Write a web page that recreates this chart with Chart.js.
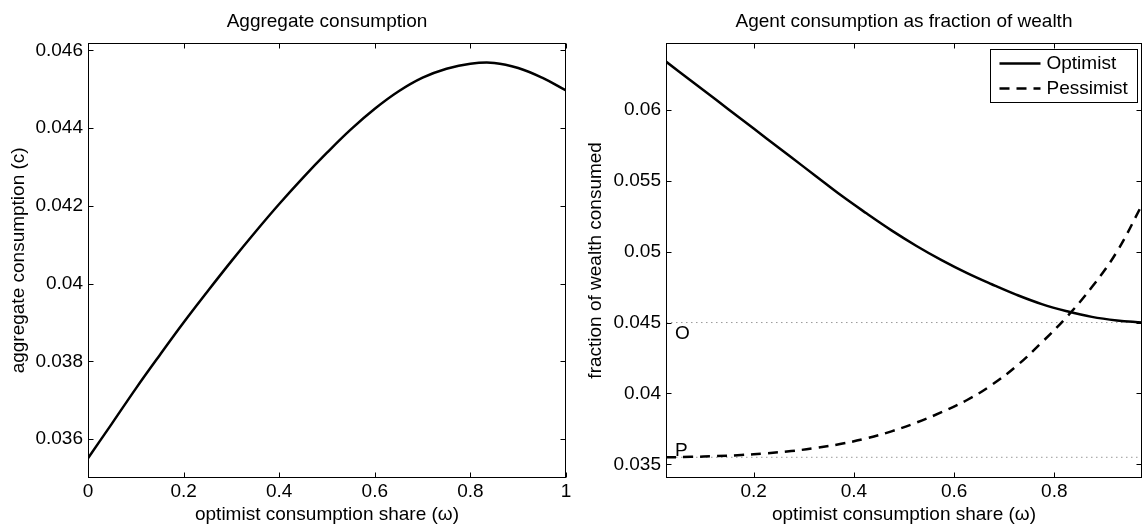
<!DOCTYPE html>
<html>
<head>
<meta charset="utf-8">
<script src="https://cdn.jsdelivr.net/npm/chart.js@4.4.1/dist/chart.umd.min.js"></script>
<style>
    html, body { margin: 0; padding: 0; background: #fff; }
    body { width: 1143px; height: 526px; position: relative; overflow: hidden; }
    canvas { position: absolute; top: 0; }
    #aggregateChart { left: 0; }
    #fractionChart { left: 573px; }
</style>
</head>
<body>
<canvas id="aggregateChart" width="600" height="526"></canvas>
<canvas id="fractionChart" width="570" height="526"></canvas>
<script>
// Left panel: aggregate consumption vs optimist consumption share
const omegaAggregate = [0, 0.05, 0.1, 0.15, 0.2, 0.25, 0.3, 0.35, 0.4, 0.45, 0.5,
                        0.55, 0.6, 0.65, 0.7, 0.75, 0.8, 0.85, 0.9, 0.95, 1];
const aggregateConsumption = [0.03551, 0.03640, 0.03730, 0.03816, 0.03900, 0.03980, 0.04058,
                              0.04133, 0.04205, 0.04273, 0.04337, 0.04397, 0.04450, 0.04495,
                              0.04530, 0.04553, 0.04566, 0.04568, 0.04555, 0.04530, 0.04497];

// Right panel: consumption as fraction of wealth for each agent
const omegaAgent = [0.025, 0.075, 0.125, 0.175, 0.225, 0.275, 0.325, 0.375, 0.425, 0.475,
                    0.525, 0.575, 0.625, 0.675, 0.725, 0.775, 0.825, 0.875, 0.925, 0.975];
const optimistFraction = [0.0634, 0.06205, 0.0607, 0.05935, 0.0580, 0.05665, 0.0553, 0.05395, 0.0527, 0.0515,
                          0.0504, 0.0494, 0.0485, 0.0477, 0.04695, 0.0463, 0.0458, 0.0454, 0.04515, 0.0450];
const pessimistFraction = [0.03550, 0.03553, 0.03558, 0.03566, 0.03578, 0.03594, 0.03616, 0.03645, 0.03683, 0.03733,
                           0.03795, 0.03868, 0.03952, 0.04060, 0.04195, 0.04360, 0.04540, 0.04750, 0.05000, 0.05330];
const optimistLimit = 0.045;   // "O" reference line
const pessimistLimit = 0.0355; // "P" reference line

// Axes
const leftXRange = [0, 1];
const leftYRange = [0.035, 0.0462];
const leftXTicks = [0, 0.2, 0.4, 0.6, 0.8, 1];
const leftYTicks = [0.036, 0.038, 0.04, 0.042, 0.044, 0.046];
const rightXRange = [0.025, 0.975];
const rightYRange = [0.03404, 0.06473];
const rightXTicks = [0.2, 0.4, 0.6, 0.8];
const rightYTicks = [0.035, 0.04, 0.045, 0.05, 0.055, 0.06];

const FONT = "'Liberation Sans', Arial, Helvetica, sans-serif";
Chart.defaults.font.family = FONT;
Chart.defaults.font.size = 19;
Chart.defaults.color = '#000';

function fmtTick(v) {
    return String(parseFloat(Number(v).toFixed(4)));
}

function toPoints(xs, ys) {
    return xs.map((x, i) => ({ x: x, y: ys[i] }));
}

// MATLAB-like box: frame, inward ticks on all four sides, title, text notes, legend
const matlabAxes = {
    id: 'matlabAxes',
    afterDraw(chart, args, opts) {
        const ctx = chart.ctx;
        const a = chart.chartArea;
        const xs = chart.scales.x;
        const ys = chart.scales.y;
        const L = Math.round(a.left) + 0.5, R = Math.round(a.right) - 0.5;
        const T = Math.round(a.top) + 0.5, B = Math.round(a.bottom) - 0.5;
        ctx.save();
        ctx.strokeStyle = '#000';
        ctx.lineWidth = 1;
        ctx.beginPath();
        xs.ticks.forEach(t => {
            const px = Math.round(xs.getPixelForValue(t.value)) + 0.5;
            ctx.moveTo(px, B); ctx.lineTo(px, B - 5);
            ctx.moveTo(px, T); ctx.lineTo(px, T + 5);
        });
        ys.ticks.forEach(t => {
            const py = Math.round(ys.getPixelForValue(t.value)) + 0.5;
            ctx.moveTo(L, py); ctx.lineTo(L + 5, py);
            ctx.moveTo(R, py); ctx.lineTo(R - 5, py);
        });
        ctx.stroke();
        ctx.strokeRect(L, T, R - L, B - T);

        // title
        ctx.fillStyle = '#000';
        ctx.font = '19px ' + FONT;
        ctx.textAlign = 'center';
        ctx.textBaseline = 'alphabetic';
        ctx.fillText(opts.title, (a.left + a.right) / 2, 27);

        // notes next to reference lines
        ctx.textAlign = 'left';
        (opts.notes || []).forEach(n => {
            ctx.fillText(n.text, a.left + 9, ys.getPixelForValue(n.value) + n.dy);
        });

        // legend
        if (opts.legend) {
            const items = chart.data.datasets.filter(d => d.inLegend);
            const w = 147, h = 53;
            const bx = Math.round(a.right - 5 - w) + 0.5, by = Math.round(a.top + 6) + 0.5;
            ctx.fillStyle = '#fff';
            ctx.fillRect(bx, by, w, h);
            ctx.strokeStyle = '#000';
            ctx.lineWidth = 1;
            ctx.strokeRect(bx, by, w, h);
            items.forEach((d, i) => {
                const cy = by + 14 + i * 25;
                ctx.save();
                ctx.lineWidth = d.borderWidth;
                ctx.setLineDash(d.borderDash || []);
                ctx.beginPath();
                ctx.moveTo(bx + 9, cy);
                ctx.lineTo(bx + 50, cy);
                ctx.stroke();
                ctx.restore();
                ctx.fillStyle = '#000';
                ctx.textBaseline = 'middle';
                ctx.fillText(d.label, bx + 56, cy);
            });
        }
        ctx.restore();
    }
};

function xAxis(range, ticks) {
    return {
        type: 'linear',
        position: 'bottom',
        min: range[0],
        max: range[1],
        afterBuildTicks: s => { s.ticks = ticks.map(v => ({ value: v })); },
        afterFit: s => { s.height = 48; },
        grid: { display: false, drawTicks: false },
        border: { display: false },
        ticks: { padding: 2, autoSkip: false, maxRotation: 0, callback: fmtTick },
        title: { display: true, text: 'optimist consumption share (ω)', padding: { top: 0, bottom: 0 } }
    };
}

function yAxis(range, ticks, width, label, titlePad) {
    return {
        type: 'linear',
        position: 'left',
        min: range[0],
        max: range[1],
        afterBuildTicks: s => { s.ticks = ticks.map(v => ({ value: v })); },
        afterFit: s => { s.width = width; },
        grid: { display: false, drawTicks: false },
        border: { display: false },
        ticks: { padding: 5, autoSkip: false, callback: fmtTick },
        title: { display: true, text: label, padding: { top: titlePad, bottom: 0 } }
    };
}

const commonOptions = {
    responsive: false,
    animation: false,
    devicePixelRatio: 1,
    elements: { point: { radius: 0 }, line: { tension: 0.4 } },
    plugins: { legend: { display: false }, tooltip: { enabled: false } }
};

new Chart(document.getElementById('aggregateChart'), {
    type: 'line',
    data: {
        datasets: [{
            label: 'Aggregate consumption',
            data: toPoints(omegaAggregate, aggregateConsumption),
            borderColor: '#000',
            borderWidth: 2.5
        }]
    },
    options: Object.assign({}, commonOptions, {
        layout: { padding: { top: 42.7, right: 34, bottom: 0, left: 0 } },
        scales: {
            x: xAxis(leftXRange, leftXTicks),
            y: yAxis(leftYRange, leftYTicks, 88, 'aggregate consumption (c)', 7)
        },
        plugins: Object.assign({}, commonOptions.plugins, {
            matlabAxes: { title: 'Aggregate consumption' }
        })
    }),
    plugins: [matlabAxes]
});

new Chart(document.getElementById('fractionChart'), {
    type: 'line',
    data: {
        datasets: [{
            label: 'O level',
            data: toPoints(rightXRange, [optimistLimit, optimistLimit]),
            borderColor: '#999',
            borderWidth: 1,
            borderDash: [1.5, 3.5],
            tension: 0,
            order: 2
        }, {
            label: 'P level',
            data: toPoints(rightXRange, [pessimistLimit, pessimistLimit]),
            borderColor: '#999',
            borderWidth: 1,
            borderDash: [1.5, 3.5],
            tension: 0,
            order: 2
        }, {
            label: 'Optimist',
            inLegend: true,
            data: toPoints(omegaAgent, optimistFraction),
            borderColor: '#000',
            borderWidth: 2.5,
            order: 0
        }, {
            label: 'Pessimist',
            inLegend: true,
            data: toPoints(omegaAgent, pessimistFraction),
            borderColor: '#000',
            borderWidth: 2.5,
            borderDash: [10, 7],
            order: 0
        }]
    },
    options: Object.assign({}, commonOptions, {
        layout: { padding: { top: 42.7, right: 1, bottom: 0, left: 0 } },
        scales: {
            x: xAxis(rightXRange, rightXTicks),
            y: yAxis(rightYRange, rightYTicks, 93, 'fraction of wealth consumed', 11)
        },
        plugins: Object.assign({}, commonOptions.plugins, {
            matlabAxes: {
                title: 'Agent consumption as fraction of wealth',
                legend: true,
                notes: [
                    { text: 'O', value: optimistLimit, dy: 16 },
                    { text: 'P', value: pessimistLimit, dy: -1 }
                ]
            }
        })
    }),
    plugins: [matlabAxes]
});
</script>
</body>
</html>
